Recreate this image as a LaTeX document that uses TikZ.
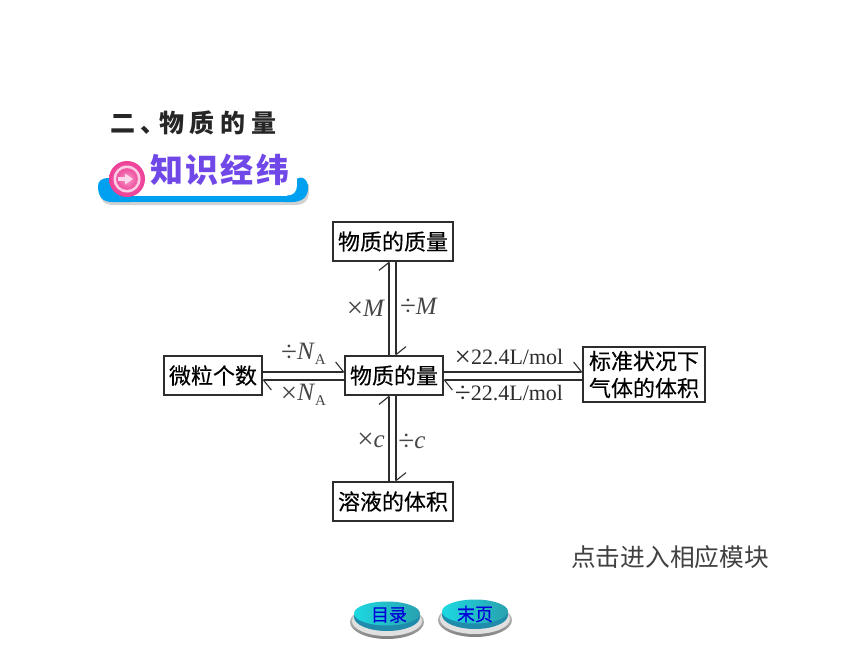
\documentclass[tikz,border=0pt]{standalone}
\usepackage{fontspec}
\setmainfont{Liberation Serif}
\newfontfamily\cjk{Noto Sans CJK SC}
\newfontfamily\cjkm[FakeBold=0.3]{Noto Sans CJK SC}
\newfontfamily\cjkt[LetterSpace=23]{Noto Sans CJK SC}
\newfontfamily\cjkk[LetterSpace=7]{Noto Sans CJK SC}
\usetikzlibrary{arrows.meta,shadings}
\definecolor{ink}{RGB}{45,45,45}
\definecolor{mathgray}{RGB}{70,70,70}
\definecolor{violetk}{RGB}{112,72,232}
\definecolor{bandblue}{RGB}{0,160,240}
\definecolor{pinkb}{RGB}{238,62,150}
\definecolor{tealb}{RGB}{48,190,205}
\definecolor{teald}{RGB}{30,140,170}
\newcommand{\fsz}[1]{\fontsize{#1}{#1}\selectfont}
\newcommand{\sbA}{\raisebox{-0.2em}{\fsz{15}A}}
\newcommand{\mv}[1]{{\fsz{25}\textit{#1}}}
\newcommand{\opx}[1]{\raisebox{-0.07em}{\fsz{29}#1}}
\tikzset{
  box/.style={draw=ink,line width=1.5pt,fill=white,inner sep=0pt,align=center,font=\cjkm\fsz{22}},
  conn/.style={draw=ink,line width=1.8pt,-{Straight Barb[harpoon,length=8pt,width=20pt,line width=1.1pt]},shorten >=-0.5pt},
  lab/.style={inner sep=0pt,text=mathgray,font=\fsz{22}},
  btntext/.style={inner sep=0pt,text=blue!85!black,font=\cjkm\fsz{18}}
}
\begin{document}
\begin{tikzpicture}[x=1pt,y=-1pt]
\useasboundingbox (0,0) rectangle (860,645);
\fill[white] (0,0) rectangle (860,645);
% heading
\node[inner sep=0pt,anchor=west,text=black!85] (title) at (110,123) {\cjkt\bfseries\fsz{25}二\hspace{5pt}、\hspace{-6pt}物质的量};
% banner
\fill[black!18] (99,184) .. controls (99,203) and (105,205) .. (115,205) -- (295,205) .. controls (305,205) and (309,200) .. (309,190) -- (309,184) -- cycle;
\fill[bandblue] (98,186) .. controls (98,181) and (102,178) .. (108,178) -- (130,178) -- (130,202) -- (112,202) .. controls (102,202) and (98,196) .. (98,186) -- cycle;
\fill[bandblue] (125,190) rectangle (292,202);
\fill[bandblue] (296,181) .. controls (296,178) and (300,177) .. (303,178) .. controls (307,180) and (308,184) .. (308,188) .. controls (308,197) and (302,202) .. (292,202) -- (285,202) -- (285,190) -- (296,190) -- cycle;
\fill[white] (125,160) rectangle (287,195.5);
\fill[white] (287,195.5) .. controls (293,195.5) and (297,192) .. (297,185) -- (296,160) -- (287,160) -- cycle;
\shade[inner color=pinkb!70,outer color=pinkb] (127,179) circle (18);
\fill[pinkb!25] (127,179) circle (13.5);
\fill[pinkb!80] (127,179) circle (11);
\shade[inner color=pinkb!50,outer color=pinkb!90] (127,179) circle (10);
\fill[pinkb!20] (118,177.2) -- (125,177.2) -- (125,173.5) -- (133,179) -- (125,184.5) -- (125,180.8) -- (118,180.8) -- cycle;
\node[inner sep=0pt,anchor=west,text=violetk] (banner) at (150,169.5) {\cjkk\bfseries\fsz{33}知识经纬};
% boxes
\node[box,minimum width=120pt,minimum height=39pt] (top) at (393,241.5) {物质的质量};
\node[box,minimum width=98pt,minimum height=39pt] (mid) at (394,375.5) {物质的量};
\node[box,minimum width=98pt,minimum height=39pt] (left) at (213,375.5) {微粒个数};
\node[box,minimum width=122pt,minimum height=55pt] (right) at (644,374.5) {标准状况下\\[5pt]气体的体积};
\node[box,minimum width=120pt,minimum height=39pt] (bot) at (393,501.5) {溶液的体积};
% connector guides
\coordinate (vl) at (389,0);
\coordinate (vr) at (396,0);
\coordinate (hu) at (0,372);
\coordinate (hd) at (0,380);
% connectors
\draw[conn] (mid.north -| vl) -- (top.south -| vl);
\draw[conn] (top.south -| vr) -- (mid.north -| vr);
\draw[conn] (bot.north -| vl) -- (mid.south -| vl);
\draw[conn] (mid.south -| vr) -- (bot.north -| vr);
\draw[conn] (left.east |- hu) -- (mid.west |- hu);
\draw[conn] (mid.west |- hd) -- (left.east |- hd);
\draw[conn] (mid.east |- hu) -- (right.west |- hu);
\draw[conn] (right.west |- hd) -- (mid.east |- hd);
% labels
\node[lab] (l1) at (303.5,354) {\opx{÷}\mv{N}\sbA};
\node[lab] (l2) at (303.5,395) {\opx{×}\mv{N}\sbA};
\node[lab] (l3) at (366,309) {\opx{×}\mv{M}};
\node[lab] (l4) at (419,307) {\opx{÷}\mv{M}};
\node[lab] (l5) at (371,441) {\opx{×}\mv{c}};
\node[lab] (l6) at (412,442) {\opx{÷}\mv{c}};
\node[lab,text=ink] (l7) at (509,358) {\opx{×}22.4L/mol};
\node[lab,text=ink] (l8) at (509,394) {\opx{÷}22.4L/mol};
% caption
\node[inner sep=0pt,anchor=west,text=black!75] (cap) at (571,557) {\cjk\fsz{24.7}点击进入相应模块};
% buttons
\shade[top color=black!15,bottom color=black!50] (387,622) ellipse (37 and 17);
\fill[white!88!black] (387,621) ellipse (35 and 15);
\fill[teald] (387,617) ellipse (33 and 14);
\shade[left color=tealb!60!cyan,right color=tealb!85!black] (387,613.5) ellipse (33 and 12);
\shade[top color=black!15,bottom color=black!50] (475,620) ellipse (37 and 17);
\fill[white!88!black] (475,619) ellipse (35 and 15);
\fill[teald] (475,615) ellipse (33 and 14);
\shade[left color=tealb!60!cyan,right color=tealb!85!black] (475,611.5) ellipse (33 and 12);
\node[btntext] (b1) at (389,615) {目录};
\node[btntext] (b2) at (475,614) {末页};
\end{tikzpicture}
\end{document}
